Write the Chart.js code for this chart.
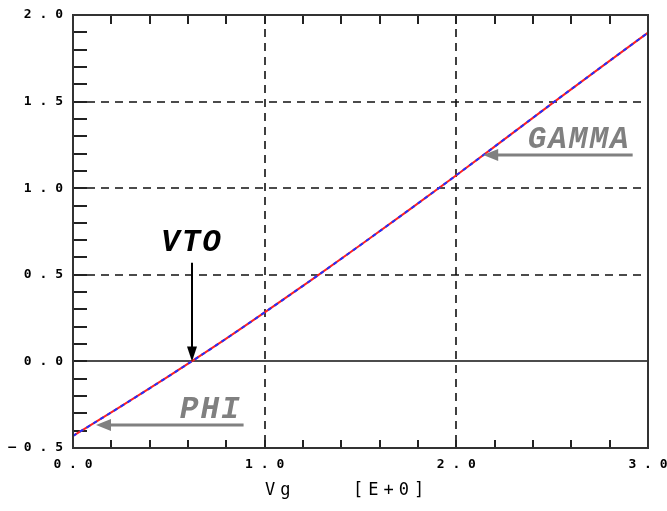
<!DOCTYPE html>
<html>
<head>
<meta charset="utf-8">
<script src="https://cdn.jsdelivr.net/npm/chart.js@4/dist/chart.umd.min.js"></script>
<style>
  html, body { margin: 0; padding: 0; background: #ffffff; }
  #wrap { width: 667px; height: 511px; }
</style>
</head>
<body>
<div id="wrap"><canvas id="c" width="667" height="511"></canvas></div>
<script>
// Gate voltage sweep (V)
const vg = [0.0, 0.25, 0.5, 0.75, 1.0, 1.25, 1.5, 1.75, 2.0, 2.25, 2.5, 2.75, 3.0];
// Measured curve
const measured = [-0.43, -0.26, -0.085, 0.095, 0.283, 0.475, 0.672, 0.872, 1.075, 1.282, 1.49, 1.695, 1.898];
// Model curve
const model = [-0.43, -0.26, -0.085, 0.095, 0.283, 0.475, 0.672, 0.872, 1.075, 1.282, 1.49, 1.695, 1.898];

// Axis tick labels
const xTickLabels = ['0.0', '1.0', '2.0', '3.0'];
const yTickLabels = ['-0.5', '0.0', '0.5', '1.0', '1.5', '2.0'];
const xTitle = 'Vg';
const xUnit = '[E+0]';

// Annotation labels with their anchor values (x in V, y in axis units)
const vtoLabel = { text: 'VTO', x: 0.62, yTop: 0.57, yTip: 0.0 };
const gammaLabel = { text: 'GAMMA', xTip: 2.14, xTail: 2.92, y: 1.19 };
const phiLabel = { text: 'PHI', xTip: 0.12, xTail: 0.89, y: -0.37 };

const toPts = (ys) => vg.map((x, i) => ({ x: x, y: ys[i] }));
const spaced = (s) => s.replace('-', '\u2014').split('').join(' ');

const frame = {
  id: 'frame',
  beforeDatasetsDraw(chart) {
    const { ctx, chartArea: a, scales: { x, y } } = chart;
    ctx.save();
    ctx.strokeStyle = '#111';
    // dashed grid
    ctx.lineWidth = 1.6;
    ctx.setLineDash([8, 6]);
    [1, 2].forEach(v => {
      const px = Math.round(x.getPixelForValue(v));
      ctx.beginPath(); ctx.moveTo(px, a.top); ctx.lineTo(px, a.bottom); ctx.stroke();
    });
    [0.5, 1.0, 1.5].forEach(v => {
      const py = Math.round(y.getPixelForValue(v));
      ctx.beginPath(); ctx.moveTo(a.left, py); ctx.lineTo(a.right, py); ctx.stroke();
    });
    ctx.setLineDash([]);
    // zero line
    ctx.lineWidth = 1.5;
    const pz = Math.round(y.getPixelForValue(0));
    ctx.beginPath(); ctx.moveTo(a.left, pz); ctx.lineTo(a.right, pz); ctx.stroke();
    // minor ticks
    ctx.lineWidth = 2;
    ctx.strokeStyle = '#222';
    for (let i = 1; i < 25; i++) {
      const py = Math.round(y.getPixelForValue(-0.5 + i * 0.1));
      ctx.beginPath(); ctx.moveTo(a.left, py); ctx.lineTo(a.left + 14, py); ctx.stroke();
    }
    for (let i = 1; i < 15; i++) {
      const px = Math.round(x.getPixelForValue(i * 0.2));
      ctx.beginPath(); ctx.moveTo(px, a.bottom); ctx.lineTo(px, a.bottom - 8); ctx.stroke();
      ctx.beginPath(); ctx.moveTo(px, a.top); ctx.lineTo(px, a.top + 9); ctx.stroke();
    }
    ctx.restore();
  },
  afterDatasetsDraw(chart) {
    const { ctx, chartArea: a, scales: { x, y } } = chart;
    ctx.save();
    // plot frame
    ctx.strokeStyle = '#333';
    ctx.lineWidth = 2;
    ctx.strokeRect(a.left, a.top, a.right - a.left, a.bottom - a.top);

    const labelFont = 'bold italic 31px "Liberation Mono", "Courier New", monospace';

    // VTO arrow (vertical, pointing down)
    const vx = Math.round(x.getPixelForValue(vtoLabel.x));
    const vTop = y.getPixelForValue(vtoLabel.yTop);
    const vTip = y.getPixelForValue(vtoLabel.yTip);
    ctx.strokeStyle = '#000'; ctx.fillStyle = '#000'; ctx.lineWidth = 2;
    ctx.beginPath(); ctx.moveTo(vx, vTop); ctx.lineTo(vx, vTip - 12); ctx.stroke();
    ctx.beginPath(); ctx.moveTo(vx, vTip); ctx.lineTo(vx - 5, vTip - 15); ctx.lineTo(vx + 5, vTip - 15); ctx.closePath(); ctx.fill();
    ctx.font = labelFont;
    ctx.letterSpacing = '2px';
    ctx.textAlign = 'center'; ctx.textBaseline = 'alphabetic';
    ctx.fillText(vtoLabel.text, vx, vTop - 12);

    // horizontal gray arrows
    const hArrow = (lab, dy) => {
      const tip = x.getPixelForValue(lab.xTip);
      const tail = x.getPixelForValue(lab.xTail);
      const py = Math.round(y.getPixelForValue(lab.y));
      ctx.strokeStyle = '#808080'; ctx.fillStyle = '#808080'; ctx.lineWidth = 3;
      ctx.beginPath(); ctx.moveTo(tip + 12, py); ctx.lineTo(tail, py); ctx.stroke();
      ctx.beginPath(); ctx.moveTo(tip, py); ctx.lineTo(tip + 15, py - 6); ctx.lineTo(tip + 15, py + 6); ctx.closePath(); ctx.fill();
      ctx.font = labelFont;
      ctx.letterSpacing = '2px';
      ctx.textAlign = 'right'; ctx.textBaseline = 'alphabetic';
      ctx.fillText(lab.text, tail - 2, py - dy);
    };
    hArrow(gammaLabel, 7);
    hArrow(phiLabel, 7);

    // x-axis title
    ctx.fillStyle = '#000';
    ctx.font = '17px "DejaVu Sans Mono", monospace';
    ctx.textAlign = 'left'; ctx.textBaseline = 'middle';
    ctx.letterSpacing = '5px';
    ctx.fillText(xTitle, 265, 491);
    ctx.fillText(xUnit, 353, 491);
    ctx.letterSpacing = '0px';
    ctx.restore();
  }
};

new Chart(document.getElementById('c'), {
  type: 'line',
  data: {
    datasets: [
      { label: 'measured', data: toPts(measured), borderColor: '#ff2020', borderWidth: 2,
        pointRadius: 0, cubicInterpolationMode: 'monotone', order: 2 },
      { label: 'model', data: toPts(model), borderColor: '#2030ff', borderWidth: 2,
        borderDash: [4, 4], pointRadius: 0, cubicInterpolationMode: 'monotone', order: 1 }
    ]
  },
  options: {
    responsive: false,
    animation: false,
    events: [],
    layout: { padding: { left: 0, right: 19, top: 15, bottom: 0 } },
    plugins: { legend: { display: false }, tooltip: { enabled: false } },
    scales: {
      x: {
        type: 'linear', min: 0, max: 3,
        grid: { display: false, drawTicks: false },
        border: { display: false },
        afterFit: (s) => { s.height = 63; s.paddingLeft = 0; s.paddingRight = 0; },
        ticks: {
          stepSize: 1, padding: 9, color: '#000',
          font: { family: '"DejaVu Sans Mono", monospace', size: 13, weight: 'bold' },
          callback: (v) => { const i = Math.round(v); return Math.abs(v - i) < 1e-6 ? spaced(xTickLabels[i]) : ''; }
        }
      },
      y: {
        type: 'linear', min: -0.5, max: 2.0,
        grid: { display: false, drawTicks: false },
        border: { display: false },
        afterFit: (s) => { s.width = 73; s.paddingTop = 0; s.paddingBottom = 0; },
        ticks: {
          stepSize: 0.5, padding: 10, color: '#000',
          font: { family: '"DejaVu Sans Mono", monospace', size: 13, weight: 'bold' },
          callback: (v) => { const i = Math.round((v + 0.5) / 0.5); return spaced(yTickLabels[i] || ''); }
        }
      }
    }
  },
  plugins: [frame]
});
</script>
</body>
</html>
